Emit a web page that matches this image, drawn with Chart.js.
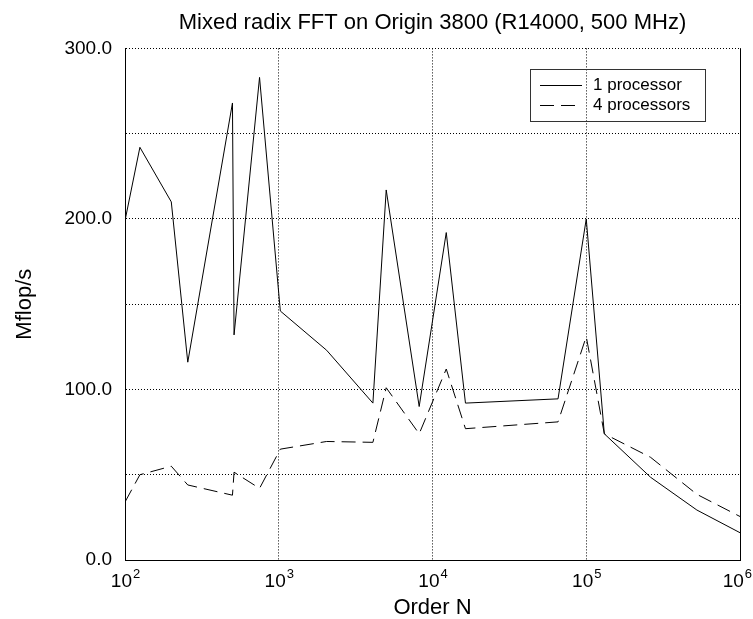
<!DOCTYPE html>
<html>
<head>
<meta charset="utf-8">
<script src="https://cdn.jsdelivr.net/npm/chart.js@4.4.1/dist/chart.umd.min.js"></script>
<style>
  html, body { margin: 0; padding: 0; background: #fff; }
</style>
</head>
<body>
<canvas id="chart" width="753" height="619"></canvas>
<script>
// Problem sizes N and measured rates (Mflop/s)
const orders = [100, 125, 200, 256, 500, 512, 750, 1024, 2048, 4096, 5000, 8192, 12288, 16384, 65536, 100000, 131072, 262144, 524288, 1000000];
const oneProc = [199, 242, 210, 116, 268, 132, 283, 146, 123, 92, 217, 90, 192, 92, 94.5, 200, 74, 48.5, 29.3, 16];
const fourProc = [34, 50, 55, 44, 38, 51.5, 42, 65, 69.5, 69, 101, 74, 112, 77, 81, 131, 74, 60.2, 38.5, 25.5];
const xDecades = [100, 1000, 10000, 100000, 1000000];
const yTicks = [0, 50, 100, 150, 200, 250, 300];

const FONT = '"Liberation Sans", Arial, Helvetica, sans-serif';

function toPoints(values) {
    return orders.map((n, i) => ({ x: n, y: values[i] }));
}

// Draws 10^k tick labels, the inner legend and the right frame edge
const extrasPlugin = {
    id: 'extras',
    afterDraw(chart) {
        const ctx = chart.ctx;
        const xs = chart.scales.x;
        const area = chart.chartArea;
        ctx.save();

        // right edge of the frame
        ctx.strokeStyle = '#000';
        ctx.lineWidth = 1;
        ctx.beginPath();
        ctx.moveTo(Math.round(area.right) + 0.5, area.top);
        ctx.lineTo(Math.round(area.right) + 0.5, area.bottom);
        ctx.stroke();

        // x tick labels as 10 with superscript exponent
        ctx.fillStyle = '#000';
        ctx.textBaseline = 'alphabetic';
        xDecades.forEach(v => {
            const px = xs.getPixelForValue(v);
            const exp = String(Math.round(Math.log10(v)));
            ctx.font = '19px ' + FONT;
            const wBase = ctx.measureText('10').width;
            ctx.font = '13px ' + FONT;
            const wExp = ctx.measureText(exp).width;
            const start = Math.min(px - (wBase + wExp) / 2, chart.width - wBase - wExp - 2);
            ctx.font = '19px ' + FONT;
            ctx.textAlign = 'left';
            ctx.fillText('10', start, area.bottom + 27);
            ctx.font = '13px ' + FONT;
            ctx.fillText(exp, start + wBase + 1, area.bottom + 18);
        });

        // legend box
        const bx = 530, by = 69, bw = 175, bh = 52;
        ctx.strokeStyle = '#333';
        ctx.strokeRect(bx + 0.5, by + 0.5, bw, bh);
        chart.data.datasets.forEach((ds, i) => {
            const ly = by + 16 + i * 20;
            ctx.strokeStyle = '#000';
            ctx.lineWidth = 1;
            ctx.setLineDash(ds.borderDash || []);
            ctx.beginPath();
            ctx.moveTo(bx + 10, ly + 0.5);
            ctx.lineTo(bx + 52, ly + 0.5);
            ctx.stroke();
            ctx.setLineDash([]);
            ctx.font = '17px ' + FONT;
            ctx.textAlign = 'left';
            ctx.textBaseline = 'middle';
            ctx.fillText(ds.label, bx + 63, ly);
        });
        ctx.restore();
    }
};

const chart = new Chart(document.getElementById('chart'), {
    type: 'line',
    data: {
        datasets: [
            {
                label: '1 processor',
                data: toPoints(oneProc),
                borderColor: '#000',
                borderWidth: 1,
                pointRadius: 0,
                tension: 0,
                fill: false
            },
            {
                label: '4 processors',
                data: toPoints(fourProc),
                borderColor: '#000',
                borderWidth: 1,
                borderDash: [14, 7],
                pointRadius: 0,
                tension: 0,
                fill: false
            }
        ]
    },
    options: {
        responsive: false,
        animation: false,
        devicePixelRatio: 1,
        layout: { padding: { left: 0, right: 13, top: 0, bottom: 0 } },
        plugins: {
            legend: { display: false },
            tooltip: { enabled: false },
            title: {
                display: true,
                fullSize: false,
                text: 'Mixed radix FFT on Origin 3800 (R14000, 500 MHz)',
                color: '#000',
                font: { family: FONT, size: 22, weight: 'normal' },
                padding: { top: 10, bottom: 12 }
            }
        },
        scales: {
            x: {
                type: 'logarithmic',
                min: 100,
                max: 1000000,
                afterBuildTicks: s => { s.ticks = xDecades.map(v => ({ value: v })); },
                afterFit: s => { s.height = 59; },
                ticks: { display: false },
                grid: { color: '#000', lineWidth: 1, drawTicks: false },
                border: { display: true, color: '#000', width: 1, dash: [1, 2] },
                title: {
                    display: true,
                    text: 'Order N',
                    color: '#000',
                    font: { family: FONT, size: 22 },
                    padding: { top: 0, bottom: -2 }
                }
            },
            y: {
                min: 0,
                max: 300,
                afterBuildTicks: s => { s.ticks = yTicks.map(v => ({ value: v })); },
                afterFit: s => { s.width = 125; },
                ticks: {
                    color: '#000',
                    font: { family: FONT, size: 19 },
                    padding: 13,
                    callback: v => (v % 100 === 0 ? v.toFixed(1) : '')
                },
                grid: { color: '#000', lineWidth: 1, drawTicks: false },
                border: { display: true, color: '#000', width: 1, dash: [1, 2] },
                title: {
                    display: true,
                    text: 'Mflop/s',
                    color: '#000',
                    font: { family: FONT, size: 22 },
                    padding: { top: 12, bottom: 0 }
                }
            }
        }
    },
    plugins: [extrasPlugin]
});
</script>
</body>
</html>
